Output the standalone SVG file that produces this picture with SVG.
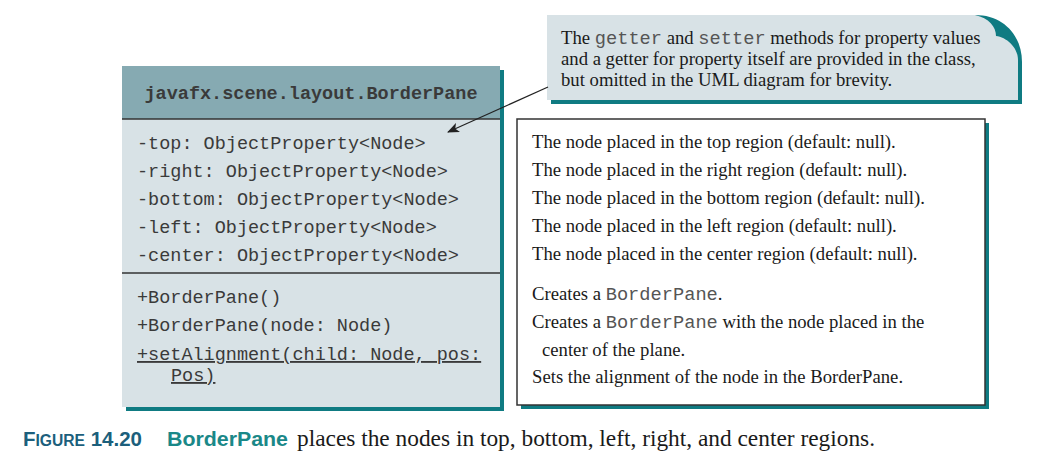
<svg xmlns="http://www.w3.org/2000/svg" width="1041" height="459" viewBox="0 0 1041 459">
<style>
.mono{font-family:"Liberation Mono","DejaVu Sans Mono",monospace;font-size:18.5px;fill:#3a3a3a}
.serif{font-family:"Liberation Serif","DejaVu Serif",serif;font-size:18.7px;fill:#1a1a1a}
.code{font-family:"Liberation Mono","DejaVu Sans Mono",monospace;fill:#555}
.shadow{fill:#0f7b82}
</style>
<defs>
<marker id="arrow" viewBox="0 0 12 10" refX="11" refY="5" markerWidth="12" markerHeight="10" markerUnits="userSpaceOnUse" orient="auto">
<path d="M0,0 L12,5 L0,10 L3,5 Z" fill="#222"/>
</marker>
</defs>
<rect width="1041" height="459" fill="#fff"/>

<g id="class-borderpane">
<rect class="shadow" x="126" y="70" width="378" height="341"/>
<rect x="122" y="66" width="378" height="341" fill="#d8e2e6"/>
<rect x="122" y="66" width="378" height="53" fill="#86aab2"/>
<line x1="122" y1="119" x2="500" y2="119" stroke="#333" stroke-width="1.5"/>
<line x1="122" y1="273" x2="500" y2="273" stroke="#333" stroke-width="1.5"/>
<text class="mono" x="311" y="99" text-anchor="middle" font-weight="bold" fill="#222">javafx.scene.layout.BorderPane</text>
<text class="mono" x="137" y="149">-top: ObjectProperty&lt;Node&gt;</text>
<text class="mono" x="137" y="177">-right: ObjectProperty&lt;Node&gt;</text>
<text class="mono" x="137" y="205">-bottom: ObjectProperty&lt;Node&gt;</text>
<text class="mono" x="137" y="233">-left: ObjectProperty&lt;Node&gt;</text>
<text class="mono" x="137" y="261">-center: ObjectProperty&lt;Node&gt;</text>
<text class="mono" x="137" y="303">+BorderPane()</text>
<text class="mono" x="137" y="331">+BorderPane(node: Node)</text>
<text class="mono" x="137" y="360" text-decoration="underline">+setAlignment(child: Node, pos:</text>
<text class="mono" x="171" y="381" text-decoration="underline">Pos)</text>
</g>

<g id="descriptions">
<rect class="shadow" x="521" y="123" width="468" height="286"/>
<rect x="517" y="119" width="468" height="286" fill="#fff" stroke="#333" stroke-width="1.5"/>
<text class="serif" x="532" y="148">The node placed in the top region (default: null).</text>
<text class="serif" x="532" y="176">The node placed in the right region (default: null).</text>
<text class="serif" x="532" y="204">The node placed in the bottom region (default: null).</text>
<text class="serif" x="532" y="232">The node placed in the left region (default: null).</text>
<text class="serif" x="532" y="260">The node placed in the center region (default: null).</text>
<text class="serif" x="532" y="300">Creates a <tspan class="code">BorderPane</tspan>.</text>
<text class="serif" x="532" y="328">Creates a <tspan class="code">BorderPane</tspan> with the node placed in the</text>
<text class="serif" x="542" y="356">center of the plane.</text>
<text class="serif" x="532" y="383">Sets the alignment of the node in the BorderPane.</text>
</g>

<g id="note">
<path class="shadow" d="M975,15 C1004,15 1022,36 1022,62 L1022,104 L551,104 L551,100 L975,100 Z"/>
<path d="M547,15 L975,15 C989,18 996,27 996,36 C1006,37 1018,47 1018,60 L1018,100 L547,100 Z" fill="#d8e2e6"/>
<text class="serif" x="561" y="44">The <tspan class="code">getter</tspan> and <tspan class="code">setter</tspan> methods for property values</text>
<text class="serif" x="561" y="65">and a getter for property itself are provided in the class,</text>
<text class="serif" x="561" y="86">but omitted in the UML diagram for brevity.</text>
</g>

<g id="connectors">
<line x1="548" y1="87" x2="448" y2="132" stroke="#222" stroke-width="1.2" marker-end="url(#arrow)"/>
</g>

<g id="caption">
<text x="23" y="446" font-family="Liberation Sans, DejaVu Sans, sans-serif" font-weight="bold" fill="#1c5f7c" font-size="21" textLength="119" lengthAdjust="spacingAndGlyphs">F<tspan font-size="16">IGURE</tspan> 14.20</text>
<text x="167" y="446" font-family="Liberation Sans, DejaVu Sans, sans-serif" font-weight="bold" fill="#1a8888" font-size="20" textLength="121" lengthAdjust="spacingAndGlyphs">BorderPane</text>
<text x="297" y="446" font-family="Liberation Serif, DejaVu Serif, serif" fill="#1a1a1a" font-size="23.2" textLength="578" lengthAdjust="spacingAndGlyphs">places the nodes in top, bottom, left, right, and center regions.</text>
</g>
</svg>
